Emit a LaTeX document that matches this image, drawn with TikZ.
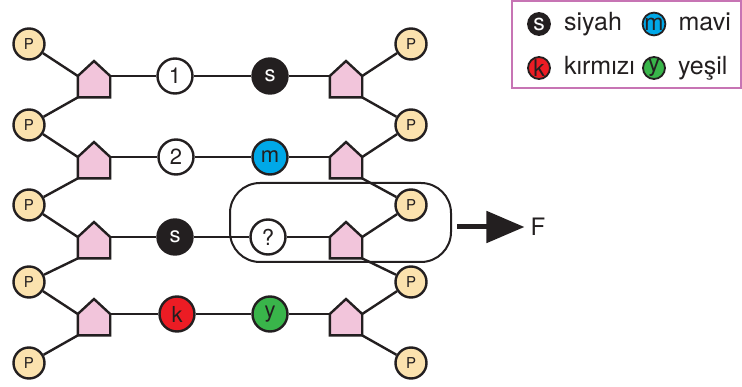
\documentclass[tikz,border=0pt]{standalone}
\usepackage{fontspec}
\setmainfont{TeX Gyre Heros}
\usetikzlibrary{arrows.meta, positioning}

\definecolor{inkline}{HTML}{231F20}
\definecolor{phosfill}{HTML}{FBE2AE}
\definecolor{sugarfill}{HTML}{F2C5DB}
\definecolor{basblue}{HTML}{00A8E8}
\definecolor{basred}{HTML}{EC1C24}
\definecolor{basgreen}{HTML}{39B54A}
\definecolor{legendframe}{HTML}{C774B4}

% sugar: name, x, shoulder y
\newcommand{\sugar}[3]{%
  \node[sugarbox, anchor=north] (#1) at (#2,#3) {};
  \filldraw[sugarline] (#1.south west) -- (#1.north west) -- ([yshift=15pt]#1.north) -- (#1.north east) -- (#1.south east) -- cycle;
}

\begin{document}
\begin{tikzpicture}[x=1pt, y=-1pt, line width=2.4pt, color=inkline,
    phos/.style={circle, draw, fill=phosfill, minimum size=31, inner sep=0pt, font=\fontsize{15}{15}\selectfont},
    base/.style={circle, draw, fill=white, minimum size=35, inner sep=0pt, font=\fontsize{22}{22}\selectfont},
    key/.style={circle, draw, line width=1.8pt, minimum size=22, inner sep=0pt, font=\fontsize{23}{23}\selectfont},
    keytext/.style={inner sep=1pt, text height=18pt, text depth=5pt, font=\fontsize{25}{25}\selectfont},
    sugarbox/.style={minimum width=30, minimum height=19, inner sep=0pt},
    sugarline/.style={fill=sugarfill, draw=inkline, line join=miter}]

\useasboundingbox (0,0) rectangle (742,387);

% Phosphate groups
\foreach \i/\y in {1/44, 2/125, 3/205, 4/282, 5/363}
{
    \node[phos] (pl\i) at (29,\y) {P};
    \node[phos] (pr\i) at (411,\y) {P};
}

% Sugars
\foreach \i/\y in {1/76, 2/157, 3/237, 4/314}
{
    \sugar{sl\i}{94}{\y}
    \sugar{sr\i}{346}{\y}
}

% Bases
\node[base] (a1) at (175,76) {1};
\node[base, fill=inkline, text=white] (b1) at (270,76) {s};
\node[base] (a2) at (176,157) {2};
\node[base, fill=basblue] (b2) at (270,157) {m};
\node[base, fill=inkline, text=white] (a3) at (175,237) {s};
\node[base] (b3) at (268,237) {?};
\node[base, fill=basred] (a4) at (177,314) {k};
\node[base, fill=basgreen] (b4) at (270,314) {y};

% Backbone and rungs
\foreach \i in {1,...,4}
{
    \pgfmathtruncatemacro{\j}{\i+1}
    \draw (pl\i) -- (sl\i.north west);
    \draw (sl\i.south west) -- (pl\j);
    \draw (pr\i) -- (sr\i.north east);
    \draw (sr\i.south east) -- (pr\j);
    \draw (sl\i.north east) -- (a\i) -- (b\i) -- (sr\i.north west);
}

% Selected part and arrow
\node[draw, line width=2pt, rounded corners=30pt, minimum width=221, minimum height=79, inner sep=0pt] (frame) at (340.5,222.5) {};
\coordinate (fstart) at (457,227);
\node[inner sep=2pt, font=\fontsize{24}{24}\selectfont] (F) at (538,227) {F};
\draw[line width=5pt, -{Triangle[length=38pt, width=31pt]}, shorten >=3pt] (fstart) -- (F.west);

% Legend
\draw[legendframe, line width=1.5pt] (512,1) rectangle (741,88);
\node[key, fill=inkline, text=white] (ks) at (539,24) {s};
\node[keytext, right=11pt of ks] (ts) {siyah};
\node[key, fill=basblue] (km) at (654,24) {m};
\node[keytext, right=10pt of km] (tm) {mavi};
\node[key, fill=basred] (kk) at (539,68) {k};
\node[keytext, right=11pt of kk] (tk) {kırmızı};
\node[key, fill=basgreen] (ky) at (654,68) {y};
\node[keytext, right=10pt of ky] (ty) {yeşil};

\end{tikzpicture}
\end{document}
